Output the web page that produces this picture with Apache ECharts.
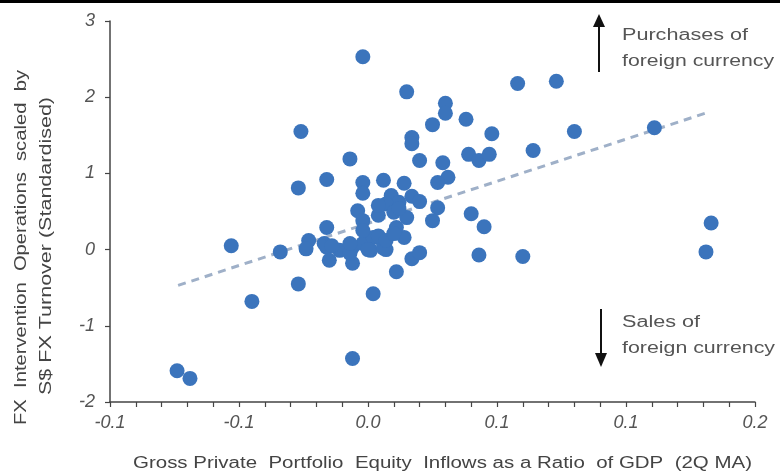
<!DOCTYPE html>
<html>
<head>
<meta charset="utf-8">
<script src="https://cdn.jsdelivr.net/npm/echarts@6/dist/echarts.min.js"></script>
<style>html,body{margin:0;padding:0;background:#fff;}#c{width:780px;height:474px;}</style>
</head>
<body>
<div id="c"></div>
<script>
// ---- data ----
const xVals = [-0.074,-0.069,-0.053,-0.045,-0.034,-0.027,-0.026,-0.027,-0.016,-0.007,-0.002,0.015,0.030,0.030,0.025,0.038,0.048,0.058,0.073,0.080,0.064,0.111,0.133,0.131,0.017,0.017,0.020,0.029,0.039,0.043,0.047,-0.006,0.002,0.011,0.017,0.020,0.043,0.060,0.040,0.045,0.027,0.025,0.014,0.031,0.027,0.014,0.006,-0.002,-0.002,0.009,0.012,0.017,0.020,-0.004,0.007,-0.002,0.004,0.010,0.015,0.011,-0.016,-0.023,-0.024,-0.016,-0.011,-0.006,-0.002,0.002,0.006,-0.015,-0.006,0.001,0.007,-0.017,-0.014,-0.007,0.000,0.006,0.004,0.012,0.004,-0.002,0.007,-0.007,0.010];
const yVals = [-1.59,-1.69,0.05,-0.68,-0.03,-0.45,1.55,0.81,0.92,1.19,2.53,2.07,1.92,1.79,1.64,1.71,1.52,2.18,2.21,1.55,1.30,1.60,0.35,-0.03,1.47,1.39,1.17,1.14,1.25,1.17,1.25,-1.43,-0.58,-0.29,-0.12,-0.04,-0.07,-0.09,0.47,0.30,0.55,0.38,0.16,0.95,0.88,0.87,0.91,0.88,0.74,0.71,0.62,0.70,0.63,0.51,0.60,0.38,0.45,0.49,0.42,0.29,0.29,0.12,0.01,0.03,-0.01,0.03,0.08,0.16,0.08,-0.14,-0.18,-0.01,0.00,0.08,0.05,-0.05,0.00,0.02,0.18,0.54,0.58,0.25,0.12,0.08,0.21];
const trendX = [-0.0736, 0.1326];
const trendY = [-0.47, 1.81];
const xTickLabels = ['-0.1','-0.1','0.0','0.1','0.1','0.2'];
const yTickLabels = ['-2','-1','0','1','2','3'];
const xTitle = 'Gross Private  Portfolio  Equity  Inflows as a Ratio  of GDP  (2Q MA)';
const yTitle1 = 'FX  Intervention  Operations  scaled  by';
const yTitle2 = 'S$ FX Turnover (Standardised)';
const noteUp = ['Purchases of', 'foreign currency'];
const noteDown = ['Sales of', 'foreign currency'];

const X_MIN = -0.1, X_MAX = 0.15, X_INT = 0.05;
const Y_MIN = -2, Y_MAX = 3, Y_INT = 1;

const pts = xVals.map((x, i) => [x, yVals[i]]);
const trend = trendX.map((x, i) => [x, trendY[i]]);

const FONT = '"Liberation Sans", Arial, sans-serif';
const mctx = document.createElement('canvas').getContext('2d');
function fit(txt, size, target) {
  mctx.font = size + 'px ' + FONT;
  return target / mctx.measureText(txt).width;
}
function txt(t, x, y, size, target, color, rot, align) {
  return {
    type: 'text', x: x, y: y, rotation: rot || 0,
    scaleX: fit(t, size, target), scaleY: 1,
    style: { text: t, fontSize: size, fontFamily: FONT, fill: color, align: align || 'left', verticalAlign: 'middle' }
  };
}

const chart = echarts.init(document.getElementById('c'), null, { renderer: 'canvas' });
chart.setOption({
  animation: false,
  backgroundColor: '#fff',
  grid: { left: 110, top: 21, width: 645, height: 381, containLabel: false },
  xAxis: {
    type: 'value', min: X_MIN, max: X_MAX, interval: X_INT,
    splitLine: { show: false },
    axisLine: { show: true, onZero: false, lineStyle: { color: '#444', width: 1.5 } },
    axisTick: { show: true, length: 5, lineStyle: { color: '#444', width: 1.2 } },
    minorTick: { show: true, splitNumber: 5, length: 5, lineStyle: { color: '#444', width: 1.2 } },
    axisLabel: {
      margin: 12, color: '#555', fontSize: 18, fontStyle: 'italic', fontFamily: FONT,
      formatter: v => xTickLabels[Math.round((v - X_MIN) / X_INT)]
    }
  },
  yAxis: {
    type: 'value', min: Y_MIN, max: Y_MAX, interval: Y_INT,
    splitLine: { show: false },
    axisLine: { show: true, onZero: false, lineStyle: { color: '#444', width: 1.5 } },
    axisTick: { show: true, length: 5, lineStyle: { color: '#444', width: 1.2 } },
    axisLabel: {
      margin: 15, color: '#555', fontSize: 18, fontStyle: 'italic', fontFamily: FONT,
      formatter: v => yTickLabels[Math.round((v - Y_MIN) / Y_INT)]
    }
  },
  series: [
    {
      type: 'line', data: trend, symbol: 'none', z: 1,
      lineStyle: { color: '#9fb0c8', width: 3, type: [8, 6] }
    },
    {
      type: 'scatter', data: pts, symbolSize: 15, z: 2,
      itemStyle: { color: '#3b74bc', opacity: 1 }
    }
  ],
  graphic: [
    { type: 'rect', shape: { x: 0, y: 0, width: 780, height: 3 }, style: { fill: '#000' } },
    txt(xTitle, 133, 464, 16, 619, '#444'),
    txt(yTitle1, 22, 425, 16, 355, '#444', Math.PI / 2),
    txt(yTitle2, 47, 395, 16, 298, '#444', Math.PI / 2),
    txt(noteUp[0], 622, 36, 16, 126, '#555'),
    txt(noteUp[1], 622, 62, 16, 152, '#555'),
    txt(noteDown[0], 622, 323, 16, 78, '#555'),
    txt(noteDown[1], 622, 349, 16, 153, '#555'),
    { type: 'line', shape: { x1: 599, y1: 72, x2: 599, y2: 25 }, style: { stroke: '#111', lineWidth: 2 } },
    { type: 'polygon', shape: { points: [[593, 27], [605, 27], [599, 14]] }, style: { fill: '#111' } },
    { type: 'line', shape: { x1: 601, y1: 309, x2: 601, y2: 355 }, style: { stroke: '#111', lineWidth: 2 } },
    { type: 'polygon', shape: { points: [[595, 353], [607, 353], [601, 367]] }, style: { fill: '#111' } }
  ]
});
</script>
</body>
</html>
